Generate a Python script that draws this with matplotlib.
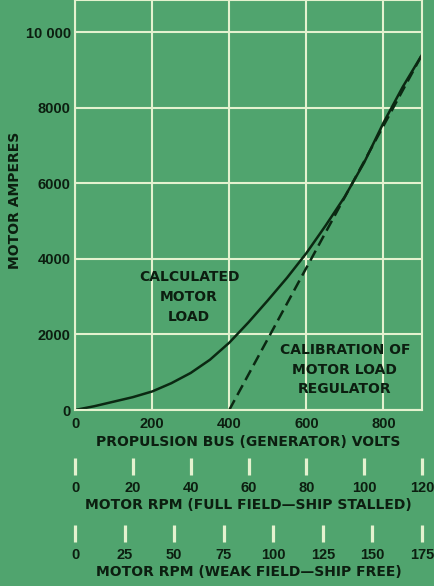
"""Motor load curve vs. propulsion bus voltage, with motor RPM scales underneath."""

import matplotlib

matplotlib.use("Agg")
import matplotlib.pyplot as plt

# --- data ---
volts = [0, 50, 100, 150, 200, 250, 300, 350, 400, 450, 500,
         550, 600, 650, 700, 750, 800, 850, 900]
calc_amps = [0, 100, 220, 340, 490, 710, 980, 1330, 1780, 2320, 2900,
             3500, 4150, 4880, 5650, 6550, 7600, 8550, 9400]
regulator_volts = [400, 900]
regulator_amps = [0, 9400]

volt_ticks = [0, 200, 400, 600, 800]
amp_ticks = [0, 2000, 4000, 6000, 8000, 10000]
amp_tick_labels = ["0", "2000", "4000", "6000", "8000", "10 000"]

rpm_full = [0, 20, 40, 60, 80, 100, 120]
rpm_weak = [0, 25, 50, 75, 100, 125, 150, 175]

# --- style ---
BG = "#50a46e"
GRID = "#e4f2cf"
INK = "#0c1e10"
CURVE = "#0b2812"
BOLD = ["DejaVu Sans"]
NARROW = ["Liberation Sans", "DejaVu Sans"]

W, H = 434, 586
fig = plt.figure(figsize=(W / 100, H / 100), dpi=100)
fig.patch.set_facecolor(BG)


def px_rect(x0, y0, x1, y1):
    """Figure-fraction rect from pixel corners (top-left origin)."""
    return [x0 / W, 1 - y1 / H, (x1 - x0) / W, (y1 - y0) / H]


ax = fig.add_axes(px_rect(75, 0, 422, 410))
ax.set_facecolor(BG)
ax.set_xlim(0, 900)
ax.set_ylim(0, 10850)

ax.set_xticks(volt_ticks)
ax.set_xticklabels([str(v) for v in volt_ticks])
ax.set_yticks(amp_ticks)
ax.set_yticklabels(amp_tick_labels)
ax.tick_params(length=0, colors=INK, labelsize=10.5)
ax.tick_params(axis="x", pad=5)
ax.tick_params(axis="y", pad=3)
for lab in ax.get_xticklabels() + ax.get_yticklabels():
    lab.set_family(NARROW)
    lab.set_weight("bold")

ax.grid(True, color=GRID, linewidth=1.5)
ax.set_axisbelow(True)
for sp in ax.spines.values():
    sp.set_color(GRID)
    sp.set_linewidth(1.5)

ax.plot(volts, calc_amps, color=CURVE, linewidth=1.8, solid_capstyle="round",
        solid_joinstyle="round")
ax.plot(regulator_volts, regulator_amps, color=CURVE, linewidth=1.8,
        linestyle=(0, (4.5, 2.3)))

ax.text(296, 2980, "CALCULATED\nMOTOR\nLOAD", ha="center", va="center",
        fontsize=10, fontweight="bold", family=BOLD, color=INK, linespacing=1.55)
ax.text(700, 1060, "CALIBRATION OF\nMOTOR LOAD\nREGULATOR", ha="center", va="center",
        fontsize=10, fontweight="bold", family=BOLD, color=INK, linespacing=1.5)

ax.set_xlabel("PROPULSION BUS (GENERATOR) VOLTS", fontsize=10, fontweight="bold",
              family=BOLD, color=INK, labelpad=3)
ax.set_ylabel("MOTOR AMPERES", fontsize=10, fontweight="bold",
              family=BOLD, color=INK)
ax.yaxis.set_label_coords((22 - 75) / 347, (410 - 200) / 410)


def rpm_scale(top_px, ticks, title):
    """Thin axis whose ticks are drawn as light bars below the volts axis."""
    sax = fig.add_axes(px_rect(75, top_px - 0.5, 422, top_px))
    sax.set_xlim(0, ticks[-1])
    sax.patch.set_alpha(0)
    for sp in sax.spines.values():
        sp.set_visible(False)
    sax.set_yticks([])
    sax.set_xticks(ticks)
    sax.set_xticklabels([str(t) for t in ticks])
    sax.tick_params(axis="x", direction="out", length=12.5, width=2.3,
                    color=GRID, labelcolor=INK, labelsize=10.5, pad=4)
    for lab in sax.get_xticklabels():
        lab.set_family(NARROW)
        lab.set_weight("bold")
    sax.set_xlabel(title, fontsize=10, fontweight="bold", family=BOLD,
                   color=INK, labelpad=2.5)
    return sax


rpm_scale(458, rpm_full, "MOTOR RPM (FULL FIELD\u2014SHIP STALLED)")
rpm_scale(525, rpm_weak, "MOTOR RPM (WEAK FIELD\u2014SHIP FREE)")

fig.savefig("out.png", dpi=100, facecolor=fig.get_facecolor())
plt.close(fig)
